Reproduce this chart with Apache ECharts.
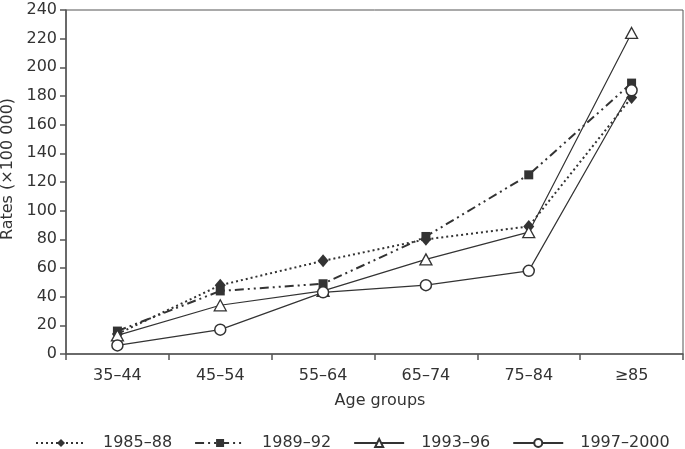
<!DOCTYPE html>
<html>
<head>
<meta charset="utf-8">
<script src="https://cdn.jsdelivr.net/npm/echarts@6/dist/echarts.min.js"></script>
<style>
html,body{margin:0;padding:0;background:#fff;}
#chart{width:685px;height:449px;}
</style>
</head>
<body>
<div id="chart"></div>
<script>
var categories = ['35–44', '45–54', '55–64', '65–74', '75–84', '≥85'];
var seriesNames = ['1985–88', '1989–92', '1993–96', '1997–2000'];
var s1985 = [14, 48, 65, 80, 89, 179];
var s1989 = [16, 44, 49, 82, 125, 189];
var s1993 = [13, 34, 44, 66, 85, 224];
var s1997 = [6, 17, 43, 48, 58, 184];
var yTicks = [0, 20, 40, 60, 80, 100, 120, 140, 160, 180, 200, 220, 240];

var FONT = 'DejaVu Sans';
var TXT = '#333';
var AX = '#555';

var chart = echarts.init(document.getElementById('chart'), null, {renderer: 'canvas'});
chart.setOption({
  animation: false,
  backgroundColor: '#fff',
  grid: {left: 66, right: 2, top: 10, bottom: 95, show: true, borderColor: AX, borderWidth: 1,
         containLabel: false, outerBoundsMode: 'none'},
  legend: {
    left: 30, top: 430,
    itemWidth: 50, itemHeight: 10, itemGap: 22,
    textStyle: {fontFamily: FONT, fontSize: 16, color: TXT, padding: [0, 0, 0, 12]},
    data: seriesNames
  },
  xAxis: {
    type: 'category', data: categories, boundaryGap: true,
    name: 'Age groups', nameLocation: 'middle', nameGap: 39,
    nameTextStyle: {fontFamily: FONT, fontSize: 16, color: TXT, padding: [0, 0, 0, 11]},
    axisLine: {lineStyle: {color: AX, width: 1.5}},
    axisTick: {show: true, length: 6, inside: false, alignWithLabel: false, lineStyle: {color: AX, width: 1.5}},
    axisLabel: {fontFamily: FONT, fontSize: 16, color: TXT, margin: 14},
    splitLine: {show: false}
  },
  yAxis: {
    type: 'value', min: yTicks[0], max: yTicks[yTicks.length - 1], interval: 20,
    name: 'Rates (×100 000)', nameLocation: 'middle', nameGap: 44,
    nameTextStyle: {fontFamily: FONT, fontSize: 16, color: TXT, padding: [0, 0, 0, 26]},
    axisLine: {show: true, lineStyle: {color: AX, width: 1.5}},
    axisTick: {show: true, length: 6, lineStyle: {color: AX, width: 1.5}},
    axisLabel: {fontFamily: FONT, fontSize: 16, color: TXT, margin: 9},
    splitLine: {show: false}
  },
  series: [
    {
      name: seriesNames[0], type: 'line', data: s1985,
      symbol: 'diamond', symbolSize: [11, 13],
      lineStyle: {color: '#333', width: 2, type: [2, 3]},
      itemStyle: {color: '#333', borderWidth: 0}
    },
    {
      name: seriesNames[1], type: 'line', data: s1989,
      symbol: 'rect', symbolSize: 9,
      lineStyle: {color: '#333', width: 2, type: [9, 4, 2, 4, 2, 4]},
      itemStyle: {color: '#333', borderWidth: 0}
    },
    {
      name: seriesNames[2], type: 'line', data: s1993,
      symbol: 'triangle', symbolSize: [12, 11],
      lineStyle: {color: '#333', width: 1.2, type: 'solid'},
      itemStyle: {color: '#fff', borderColor: '#333', borderWidth: 1.3}
    },
    {
      name: seriesNames[3], type: 'line', data: s1997,
      symbol: 'circle', symbolSize: 11,
      lineStyle: {color: '#333', width: 1.2, type: 'solid'},
      itemStyle: {color: '#fff', borderColor: '#333', borderWidth: 1.5}
    }
  ]
});
</script>
</body>
</html>
